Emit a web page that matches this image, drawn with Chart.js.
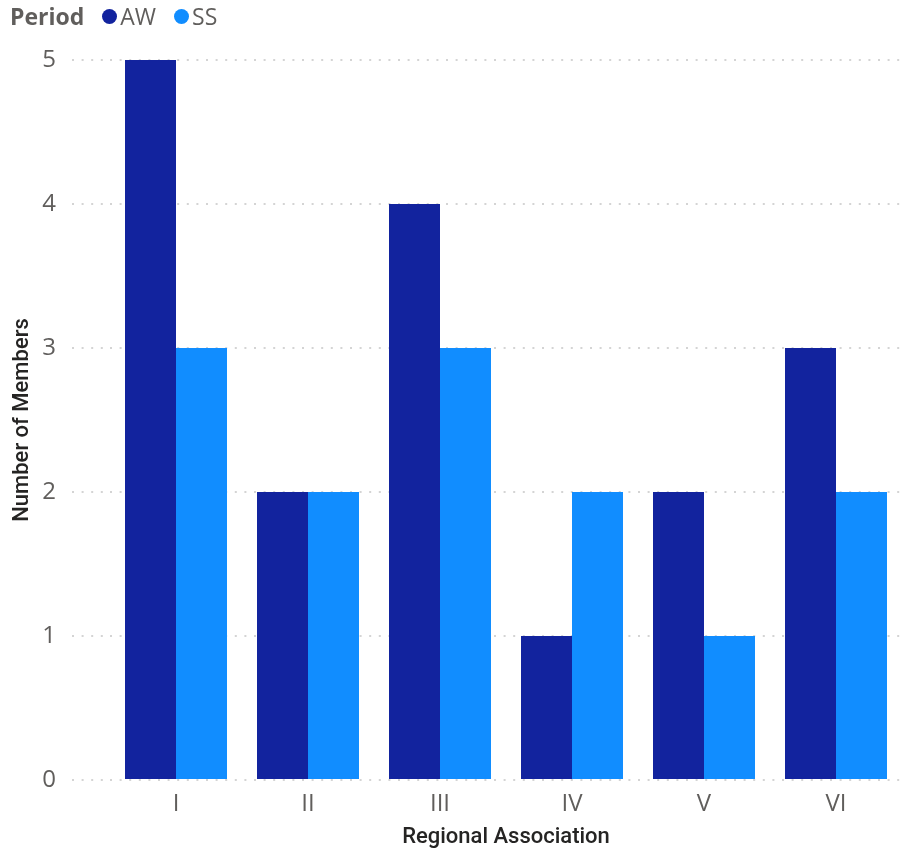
<!DOCTYPE html>
<html>
<head>
<meta charset="utf-8">
<script src="https://cdn.jsdelivr.net/npm/chart.js@4.4.1/dist/chart.umd.min.js"></script>
<style>
  html, body { margin: 0; padding: 0; background: #fff; }
  #wrap { position: relative; width: 906px; height: 854px; }
  #legend {
    position: absolute; left: 10px; top: 0px; height: 32px;
    font-family: "Open Sans", "Noto Sans", sans-serif; font-size: 23px;
    color: #605E5C; display: flex; align-items: center; white-space: nowrap;
  }
  #legend .ttl { font-weight: 700; margin-right: 18px; }
  #legend .item { display: flex; align-items: center; margin-right: 18px; }
  #legend .dot { width: 15px; height: 15px; border-radius: 50%; margin-right: 3px; }
</style>
</head>
<body>
<div id="wrap">
  <canvas id="chart" width="906" height="854"></canvas>
  <div id="legend"></div>
</div>
<script>
// Members per regional association, split by period
const categories = ['I', 'II', 'III', 'IV', 'V', 'VI'];
const seriesNames = ['AW', 'SS'];
const awValues = [5, 2, 4, 1, 2, 3];
const ssValues = [3, 2, 3, 2, 1, 2];
const yTicks = [0, 1, 2, 3, 4, 5];

const colors = ['#12239E', '#118DFF'];

// HTML legend built from the chart's own legend items
const htmlLegend = {
  id: 'htmlLegend',
  afterUpdate(chart) {
    const box = document.getElementById('legend');
    box.innerHTML = '';
    const t = document.createElement('span');
    t.className = 'ttl';
    t.textContent = 'Period';
    box.appendChild(t);
    chart.options.plugins.legend.labels.generateLabels(chart).forEach(item => {
      const el = document.createElement('span');
      el.className = 'item';
      const d = document.createElement('span');
      d.className = 'dot';
      d.style.background = item.fillStyle;
      const tx = document.createElement('span');
      tx.textContent = item.text;
      el.appendChild(d);
      el.appendChild(tx);
      box.appendChild(el);
    });
  }
};

// dotted gridline pattern
const dots = [2, 7.6];

new Chart(document.getElementById('chart'), {
  type: 'bar',
  data: {
    labels: categories,
    datasets: [
      { label: seriesNames[0], data: awValues, backgroundColor: colors[0] },
      { label: seriesNames[1], data: ssValues, backgroundColor: colors[1] }
    ]
  },
  plugins: [htmlLegend],
  options: {
    responsive: false,
    animation: false,
    layout: { padding: { top: 60, right: 4, bottom: 0, left: 0 } },
    datasets: { bar: { barPercentage: 1, categoryPercentage: 102 / 132 } },
    plugins: {
      legend: { display: false },
      tooltip: { enabled: false }
    },
    scales: {
      x: {
        grid: { display: false, drawTicks: false },
        border: { display: false },
        ticks: {
          color: '#605E5C', padding: 10,
          font: { family: '"Open Sans", "Noto Sans", sans-serif', size: 24 }
        },
        title: {
          display: true, text: 'Regional Association', color: '#252423',
          font: { family: 'Roboto, "DejaVu Sans", sans-serif', size: 22, weight: '500' },
          padding: { top: 0, bottom: 3 }
        },
        afterFit(scale) { scale.height = 74; }
      },
      y: {
        min: 0, max: 5,
        afterBuildTicks(scale) { scale.ticks = yTicks.map(v => ({ value: v })); },
        grid: {
          color: '#D4D4D4', lineWidth: 2,
          drawTicks: true, tickLength: 38,
          tickColor: '#D4D4D4', tickBorderDash: dots, tickWidth: 2
        },
        border: { display: false, dash: dots },
        ticks: {
          color: '#605E5C', padding: 16,
          font: { family: '"Open Sans", "Noto Sans", sans-serif', size: 24 }
        },
        title: {
          display: true, text: 'Number of Members', color: '#252423',
          font: { family: 'Roboto, "DejaVu Sans", sans-serif', size: 22, weight: '500' },
          padding: { top: 9, bottom: 0 }
        },
        afterFit(scale) { scale.width = 110; }
      }
    }
  }
});
</script>
</body>
</html>
